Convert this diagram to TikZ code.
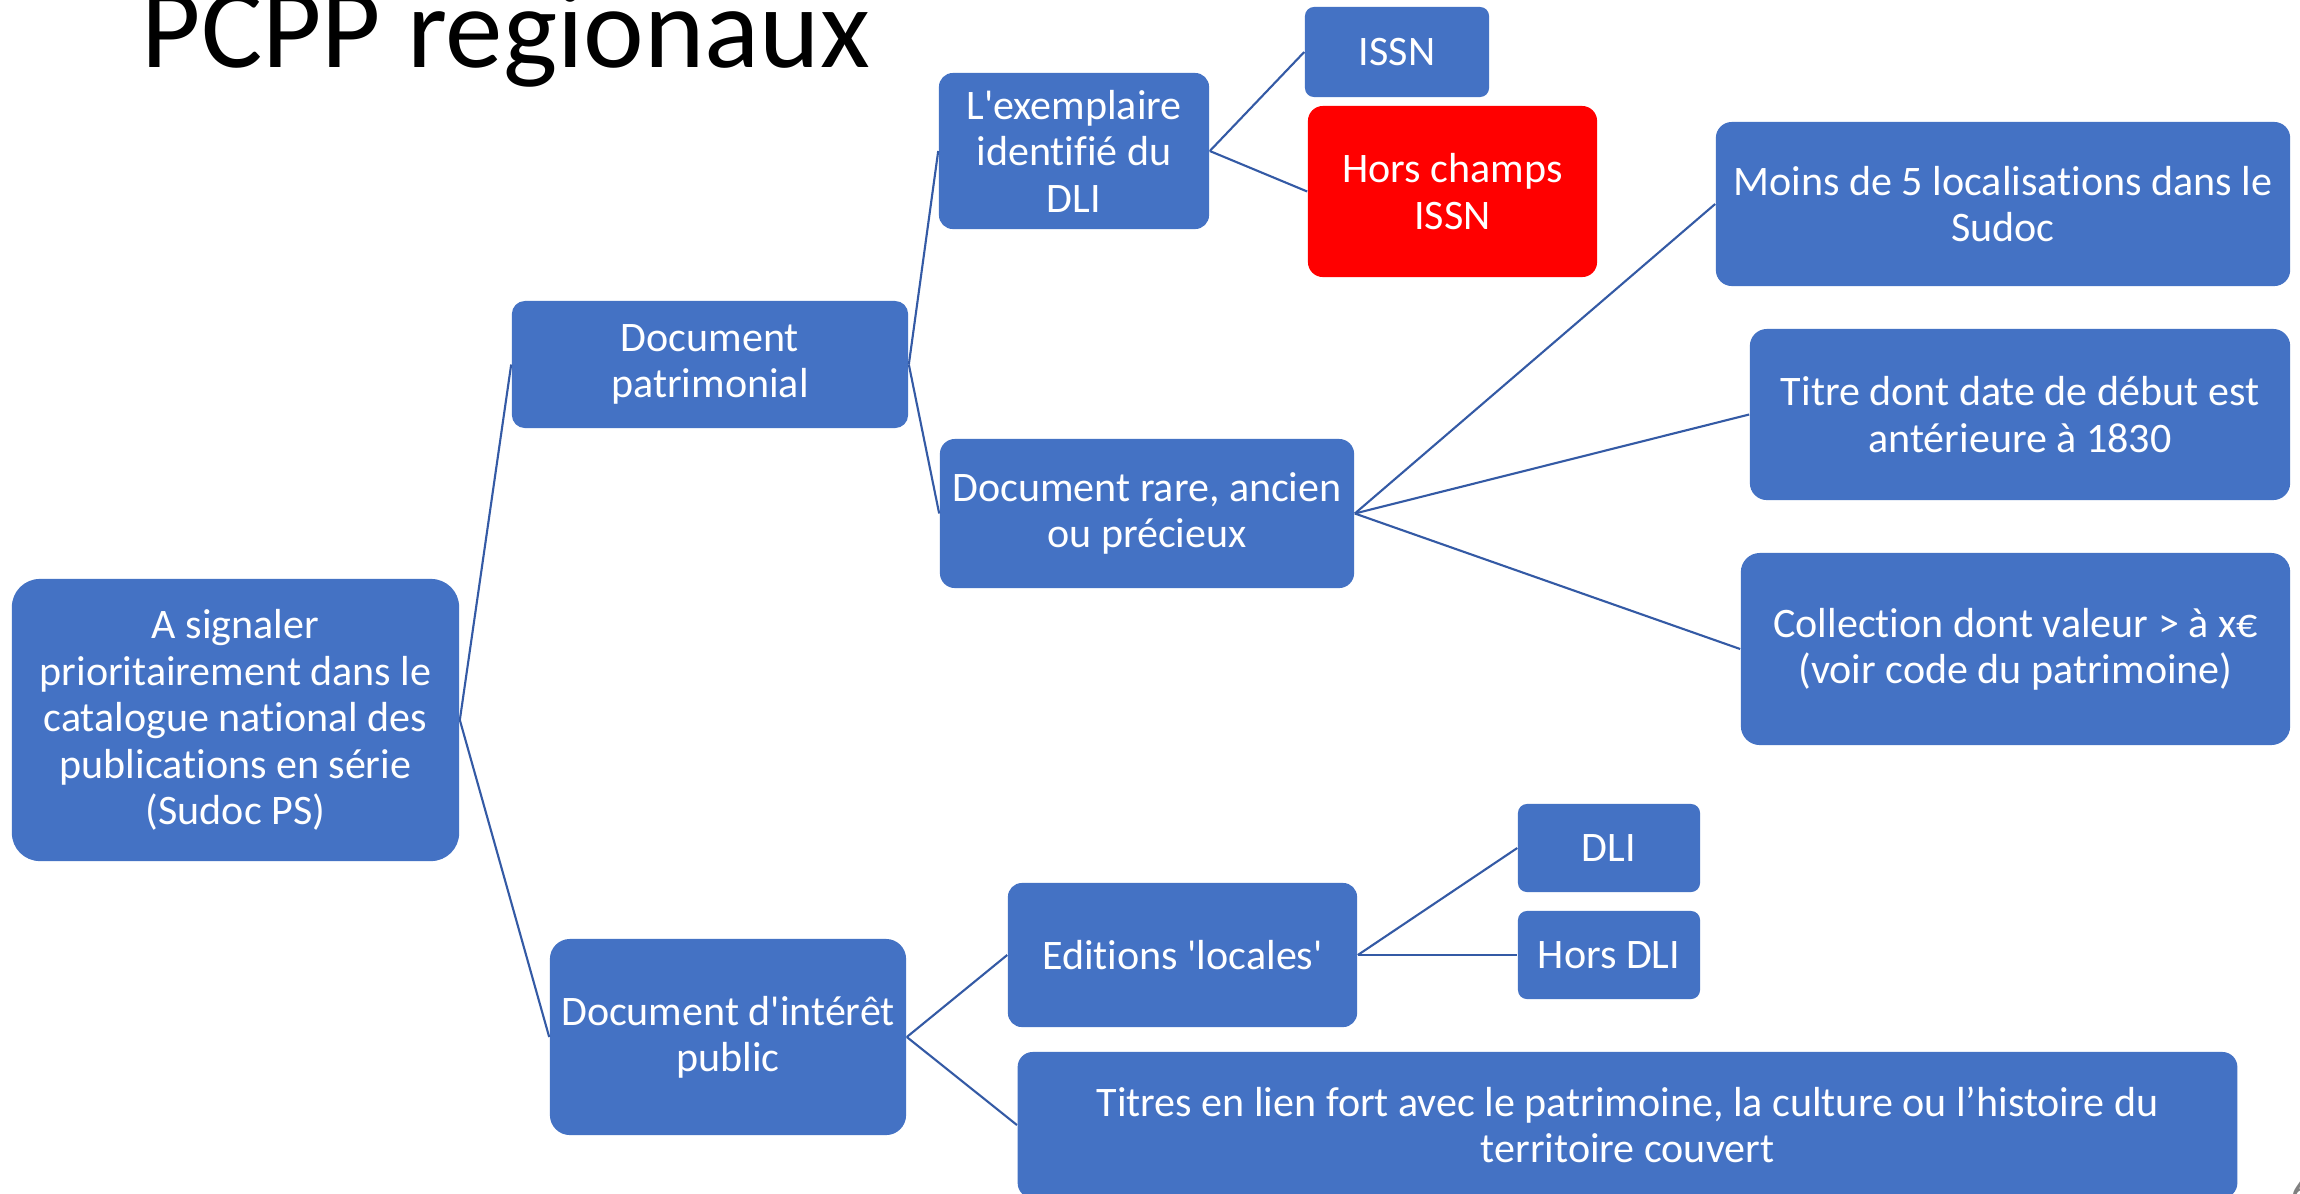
\documentclass[tikz,border=0pt]{standalone}
\usepackage{fontspec}
\setmainfont{Carlito}[Ligatures={TeXOff,CommonOff}]
\definecolor{boxblue}{RGB}{68,114,196}
\definecolor{linkblue}{RGB}{52,90,165}
\definecolor{hotred}{RGB}{255,0,0}
\begin{document}
\begin{tikzpicture}[x=0.01cm,y=-0.01cm,
  box/.style={fill=boxblue, text=white, align=center, inner sep=0pt,
    font=\fontsize{11.95}{13.2}\selectfont},
  sz/.style n args={3}{minimum width=#1, minimum height=#2, rounded corners=#3},
  link/.style={draw=linkblue, line width=0.6pt}]
\useasboundingbox (0,0) rectangle (2300,1193);
\fill[white] (0,0) rectangle (2300,1193);

\node[anchor=base west, inner sep=0pt, font=\fontsize{32.7}{36}\selectfont] (title) at (141,67) {PCPP regionaux};

\node[box, sz={4.47cm}{2.82cm}{0.28cm}] (root) at (235.5,720) {A signaler\\prioritairement dans le\\catalogue national des\\publications en série\\(Sudoc PS)};
\node[box, sz={3.96cm}{1.27cm}{0.13cm}] (pat) at (710,364.5) {Document\\patrimonial};
\node[box, sz={2.70cm}{1.56cm}{0.14cm}] (exm) at (1074,151) {L'exemplaire\\identifié du\\DLI};
\node[box, sz={1.84cm}{0.90cm}{0.09cm}] (issn) at (1397,52) {ISSN};
\node[box, fill=hotred, sz={2.89cm}{1.71cm}{0.15cm}] (hors) at (1452.5,191.5) {Hors champs\\ISSN};
\node[box, sz={4.14cm}{1.49cm}{0.15cm}] (rare) at (1147,513.5) {Document rare, ancien\\ou précieux};
\node[box, sz={5.74cm}{1.64cm}{0.16cm}] (moins) at (2003,204) {Moins de 5 localisations dans le\\Sudoc};
\node[box, sz={5.40cm}{1.71cm}{0.17cm}] (titre) at (2020,414.5) {Titre dont date de début est\\antérieure à 1830};
\node[box, sz={5.49cm}{1.92cm}{0.19cm}] (coll) at (2015.5,649) {Collection dont valeur > à x€\\(voir code du patrimoine)};
\node[box, sz={3.56cm}{1.96cm}{0.20cm}] (pub) at (728,1037) {Document d'intérêt\\public};
\node[box, sz={3.49cm}{1.44cm}{0.14cm}] (edit) at (1182.5,955) {Editions 'locales'};
\node[box, sz={1.82cm}{0.88cm}{0.09cm}] (dli) at (1609,848) {DLI};
\node[box, sz={1.82cm}{0.88cm}{0.09cm}] (hdli) at (1609,955) {Hors DLI};
\node[box, sz={12.19cm}{1.46cm}{0.15cm}] (tlien) at (1627.5,1125) {Titres en lien fort avec le patrimoine, la culture ou l’histoire du\\territoire couvert};

\node[anchor=north west, inner sep=0pt, text=gray, font=\fontsize{11.95}{13.2}\selectfont] (pnum) at (2291,1176) {6};

\draw[link] (root.east) -- (pat.west);
\draw[link] (root.east) -- (pub.west);
\draw[link] (pat.east) -- (exm.west);
\draw[link] (pat.east) -- (rare.west);
\draw[link] (exm.east) -- (issn.west);
\draw[link] (exm.east) -- (hors.west);
\draw[link] (rare.east) -- (moins.west);
\draw[link] (rare.east) -- (titre.west);
\draw[link] (rare.east) -- (coll.west);
\draw[link] (pub.east) -- (edit.west);
\draw[link] (pub.east) -- (tlien.west);
\draw[link] (edit.east) -- (dli.west);
\draw[link] (edit.east) -- (hdli.west);
\end{tikzpicture}
\end{document}
